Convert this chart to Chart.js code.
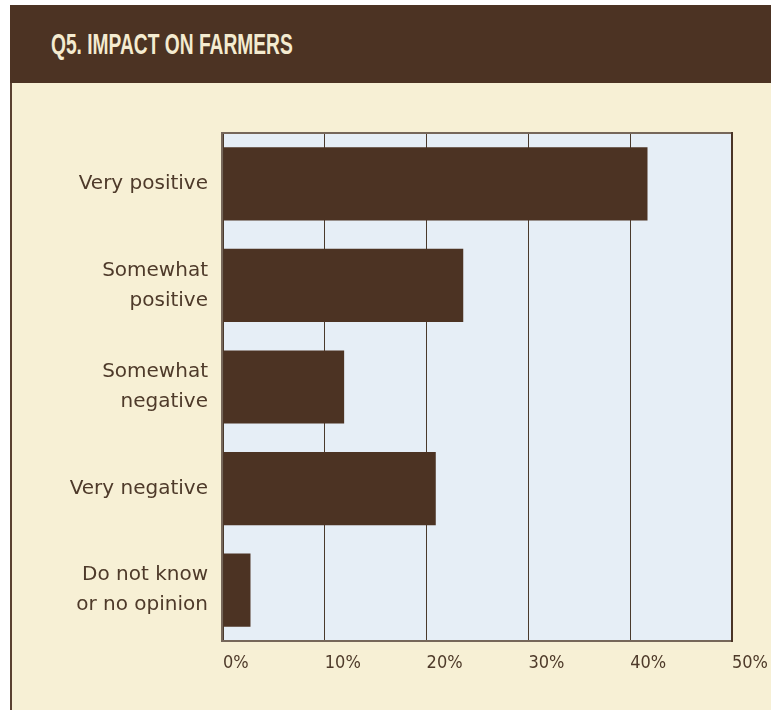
<!DOCTYPE html>
<html>
<head>
<meta charset="utf-8">
<title>Q5. Impact on farmers</title>
<script src="https://cdn.jsdelivr.net/npm/chart.js@4.4.1/dist/chart.umd.min.js"></script>
<style>
  body { margin: 0; background: #ffffff; width: 771px; height: 710px; position: relative; overflow: hidden; }
  #header {
    position: absolute; left: 10px; top: 5px; width: 761px; height: 78px;
    background: #4c3323;
  }
  #header h1 {
    position: absolute; left: 41px; top: 22px; margin: 0;
    font-family: "Liberation Sans Narrow", "Liberation Sans", sans-serif;
    font-weight: bold; font-size: 30px; line-height: 34px;
    color: #f4ebd0; white-space: nowrap;
    transform: scaleX(0.64); transform-origin: left top;
  }
  #panel {
    position: absolute; left: 10px; top: 83px; width: 759px; height: 627px;
    background: #f7f0d5; border-left: 2px solid #5a4131;
  }
  #chart-box { position: absolute; left: 12px; top: 85px; width: 759px; height: 625px; }
</style>
</head>
<body>

<div id="header"><h1>Q5. IMPACT ON FARMERS</h1></div>
<div id="panel"></div>
<div id="chart-box"><canvas id="my-chart"></canvas></div>

<script>
'use strict';

// ***** DATA *****

let answers = [
  'Very positive',
  ['Somewhat', 'positive'],
  ['Somewhat', 'negative'],
  'Very negative',
  ['Do not know', 'or no opinion']
];
let shares = [41.7, 23.6, 11.9, 20.9, 2.7];
let percentTicks = [0, 10, 20, 30, 40, 50];

// ***** COLOURS *****

let brown = '#4c3323';
let textBrown = '#4e3a2a';
let plotBlue = '#e6eef6';

// ***** PLOT FRAME *****

let plotFrame = {
  id: 'plotFrame',
  beforeDraw(chart) {
    let a = chart.chartArea;
    let c = chart.ctx;
    c.save();
    c.fillStyle = plotBlue;
    c.fillRect(a.left, a.top, a.right - a.left, a.bottom - a.top);
    c.restore();
  },
  beforeDatasetsDraw(chart) {
    let a = chart.chartArea;
    let c = chart.ctx;
    c.save();
    c.lineWidth = 2;
    c.strokeStyle = '#76675a';
    c.beginPath();
    c.moveTo(a.right, a.top);
    c.lineTo(a.left - 1, a.top);
    c.lineTo(a.left - 1, a.bottom);
    c.lineTo(a.right, a.bottom);
    c.stroke();
    c.strokeStyle = '#4a3426';
    c.beginPath();
    c.moveTo(a.right, a.top - 1);
    c.lineTo(a.right, a.bottom + 1);
    c.stroke();
    c.restore();
  }
};

// ***** CHART *****

let ctx = document.getElementById('my-chart');

new Chart(ctx, {
  type: 'bar',
  data: {
    labels: answers,
    datasets: [{
      data: shares,
      backgroundColor: brown,
      borderWidth: 0,
      barPercentage: 0.72,
      categoryPercentage: 1
    }]
  },
  options: {
    indexAxis: 'y',
    responsive: true,
    maintainAspectRatio: false,
    animation: false,
    layout: { padding: { left: 0, top: 48, right: 39, bottom: 0 } },
    plugins: {
      legend: { display: false },
      tooltip: { enabled: false }
    },
    scales: {
      x: {
        min: 0,
        max: 50,
        afterBuildTicks(scale) {
          scale.ticks = percentTicks.map(v => ({ value: v }));
        },
        afterFit(scale) {
          scale.height = 69;
          scale.paddingLeft = 0;
          scale.paddingRight = 0;
        },
        grid: { color: '#4a3a2c', lineWidth: 1, drawTicks: false },
        border: { display: false },
        ticks: {
          align: 'start',
          padding: 12,
          color: textBrown,
          font: { family: '"DejaVu Sans Condensed", "Liberation Sans Narrow", "Liberation Sans", sans-serif', size: 18 },
          callback: v => v + '%'
        }
      },
      y: {
        afterFit(scale) {
          scale.width = 211;
          scale.paddingTop = 0;
          scale.paddingBottom = 0;
        },
        grid: { display: false, drawTicks: false },
        border: { display: false },
        ticks: {
          padding: 15,
          color: textBrown,
          font: { family: '"DejaVu Sans", sans-serif', size: 20, lineHeight: 1.5 }
        }
      }
    }
  },
  plugins: [plotFrame]
});
</script>
</body>
</html>
